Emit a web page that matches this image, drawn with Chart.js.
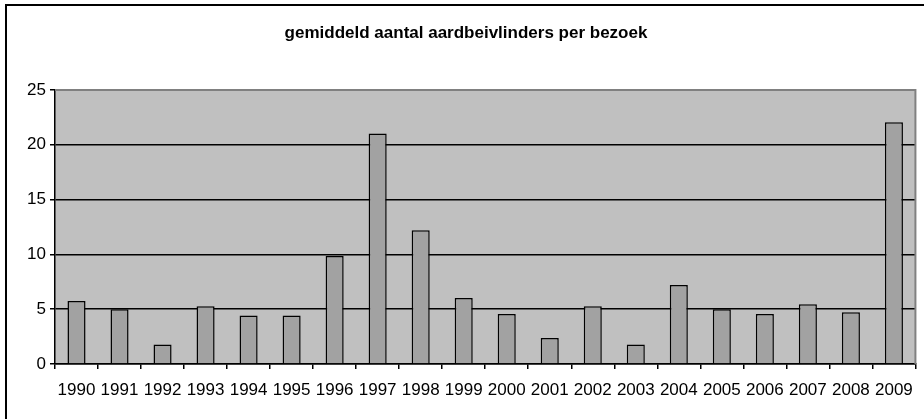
<!DOCTYPE html>
<html>
<head>
<meta charset="utf-8">
<script src="https://cdn.jsdelivr.net/npm/chart.js@4.4.1/dist/chart.umd.min.js"></script>
<style>
html,body{margin:0;padding:0;background:#fff;overflow:hidden;}
#wrap{position:relative;width:924px;height:419px;}
canvas{display:block;}
</style>
</head>
<body>
<div id="wrap"><canvas id="c" width="924" height="419"></canvas></div>
<script>
const chartTitle = "gemiddeld aantal aardbeivlinders per bezoek";
const years = ["1990","1991","1992","1993","1994","1995","1996","1997","1998","1999","2000","2001","2002","2003","2004","2005","2006","2007","2008","2009"];
const visitsAvg = [5.75,5.0,1.77,5.27,4.42,4.42,9.86,21.04,12.21,6.03,4.57,2.37,5.27,1.77,7.21,5.0,4.57,5.45,4.72,22.05];
const yTicks = [0,5,10,15,20,25];

const frame = {
  id:'frame',
  beforeDraw(chart){
    const ctx=chart.ctx, a=chart.chartArea;
    ctx.save();
    ctx.fillStyle='#fff';
    ctx.fillRect(0,0,chart.width,chart.height);
    ctx.strokeStyle='#000';
    ctx.lineWidth=2;
    ctx.beginPath();
    ctx.moveTo(6,chart.height+5);
    ctx.lineTo(6,5);
    ctx.lineTo(chart.width+5,5);
    ctx.stroke();
    ctx.fillStyle='#C0C0C0';
    ctx.fillRect(a.left,a.top,a.right-a.left,a.bottom-a.top);
    ctx.restore();
  },
  afterDatasetsDraw(chart){
    const ctx=chart.ctx, a=chart.chartArea;
    ctx.save();
    ctx.strokeStyle='#808080';
    ctx.lineWidth=2;
    ctx.beginPath();
    ctx.moveTo(a.left,a.top);
    ctx.lineTo(a.right,a.top);
    ctx.lineTo(a.right,a.bottom);
    ctx.stroke();
    ctx.restore();
  }
};

new Chart(document.getElementById('c'),{
  type:'bar',
  data:{labels:years,datasets:[{data:visitsAvg,backgroundColor:'#A2A2A2',borderColor:'#000',borderWidth:1.5,categoryPercentage:1,barPercentage:0.42}]},
  options:{
    responsive:false,animation:false,
    layout:{padding:{left:15,right:7,top:0,bottom:0}},
    plugins:{
      legend:{display:false},tooltip:{enabled:false},
      title:{display:true,text:chartTitle,color:'#000',font:{family:'Liberation Sans',size:17,weight:'bold',lineHeight:1.2},padding:{top:23,bottom:46.6}}
    },
    scales:{
      x:{
        grid:{offset:true,drawOnChartArea:false,color:'#000',tickLength:5,lineWidth:1.5},
        border:{color:'#000',width:1.5},
        ticks:{color:'#000',font:{family:'Liberation Sans',size:17},padding:11,maxRotation:0,autoSkip:false},
        afterFit(s){s.height=55;}
      },
      y:{
        min:0,max:25,
        afterBuildTicks(s){s.ticks=yTicks.map(v=>({value:v}));},
        grid:{color:'#000',lineWidth:1.5,tickLength:5},
        border:{color:'#000',width:1.5},
        ticks:{color:'#000',font:{family:'Liberation Sans',size:17},padding:4},
        afterFit(s){s.width=40;}
      }
    }
  },
  plugins:[frame]
});
</script>
</body>
</html>
